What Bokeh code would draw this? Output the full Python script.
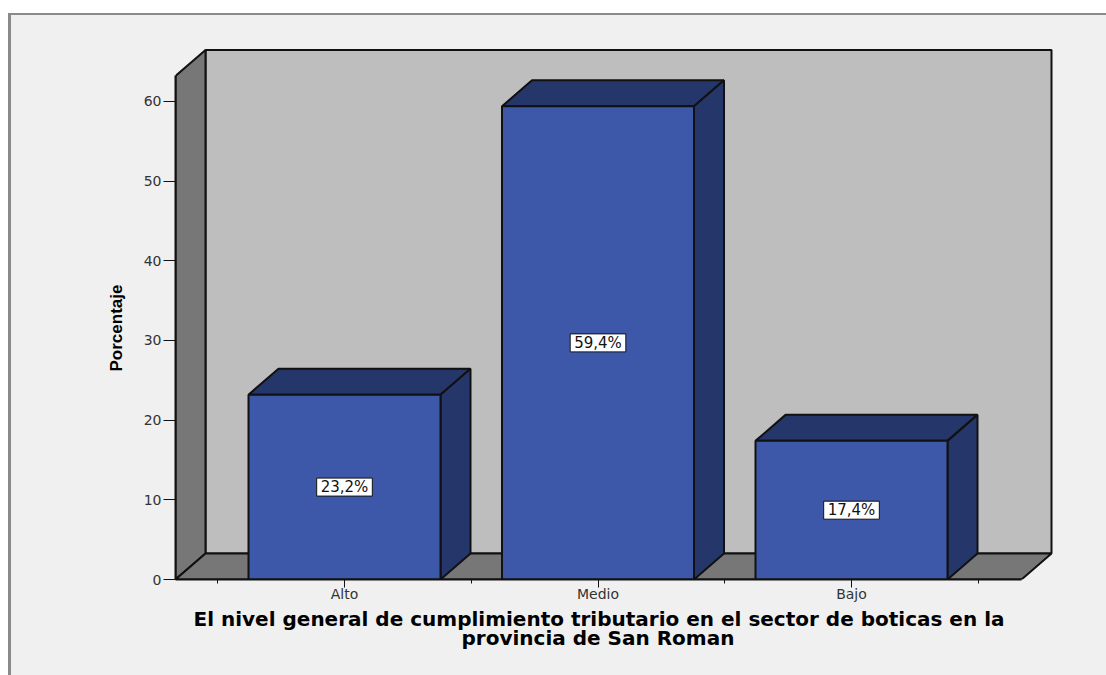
from bokeh.plotting import figure
from bokeh.embed import file_html
from bokeh.resources import INLINE
from bokeh.models import FixedTicker, Range1d, Label, Title

categories = ["Alto", "Medio", "Bajo"]
values = [23.2, 59.4, 17.4]
labels = ["23,2%", "59,4%", "17,4%"]
y_ticks = [0, 10, 20, 30, 40, 50, 60]
positions = [1, 2, 3]
title_lines = ["El nivel general de cumplimiento tributario en el sector de boticas en la",
               "provincia de San Roman"]
y_title = "Porcentaje"

PX_X = 253.5
PX_Y = 7.967
DX = 30 / PX_X
DY = 26 / PX_Y
BAR_W = 192 / PX_X
X0 = 1 - 169 / PX_X
X1 = 1 + 677 / PX_X
YTOP = 63.2

FRONT = "#3d58a9"
DARK = "#25366b"
WALL = "#777777"
BACK = "#bebebe"
EDGE = "#111111"
BG = "#f0f0f0"

p = figure(width=1098, height=662, output_backend="svg", toolbar_location=None,
           x_range=Range1d(X0, X0 + 880 / PX_X), y_range=Range1d(0, 535 / PX_Y),
           min_border_left=167, min_border_right=51, min_border_top=31, min_border_bottom=96,
           background_fill_color=None, border_fill_color=None, outline_line_color=None,
           margin=(13, 0, 0, 8))
p.styles = {"background-color": BG, "box-shadow": "inset 3px 2px 0 #8a8a8a"}
p.grid.visible = False

lw = 2
p.patch([X0 + DX, X1 + DX, X1 + DX, X0 + DX], [DY, DY, YTOP + DY, YTOP + DY],
        fill_color=BACK, line_color=EDGE, line_width=lw)
p.patch([X0, X0 + DX, X0 + DX, X0], [0, DY, YTOP + DY, YTOP],
        fill_color=WALL, line_color=EDGE, line_width=lw)
p.patch([X0, X1, X1 + DX, X0 + DX], [0, 0, DY, DY],
        fill_color=WALL, line_color=EDGE, line_width=lw)

for x, v in zip(positions, values):
    l, r = x - BAR_W / 2, x + BAR_W / 2
    p.patch([l, r, r + DX, l + DX], [v, v, v + DY, v + DY],
            fill_color=DARK, line_color=EDGE, line_width=lw)
    p.patch([r, r + DX, r + DX, r], [0, DY, v + DY, v],
            fill_color=DARK, line_color=EDGE, line_width=lw)
p.vbar(x=positions, top=values, bottom=0, width=BAR_W,
       fill_color=FRONT, line_color=EDGE, line_width=lw)

for x, v, t in zip(positions, values, labels):
    p.add_layout(Label(x=x, y=v / 2, text=t, text_align="center", text_baseline="middle",
                       text_font="DejaVu Sans", text_font_size="15px", text_color="#111111",
                       background_fill_color="white", border_line_color="#111111",
                       border_line_width=1, padding=(4, 0)))

xa = p.xaxis[0]
xa.ticker = FixedTicker(ticks=positions,
                        minor_ticks=[positions[0] - 0.5] + [x + 0.5 for x in positions])
xa.major_label_overrides = dict(zip(positions, categories))
xa.bounds = (X0, X1)
xa.axis_line_color = EDGE
xa.axis_line_width = lw
xa.major_tick_in = 0
xa.major_tick_out = 8
xa.minor_tick_in = 0
xa.minor_tick_out = 4
xa.major_tick_line_color = EDGE
xa.minor_tick_line_color = EDGE
xa.major_label_text_font = "DejaVu Sans"
xa.major_label_text_font_size = "14px"
xa.major_label_text_color = "#333333"
xa.major_label_standoff = -2

for line, off, gap in zip(title_lines, [18, 286], [1, -16]):
    p.add_layout(Title(text=line, align="left", offset=off, standoff=gap,
                       text_font="DejaVu Sans", text_font_style="bold",
                       text_font_size="20px", text_color="#000000"), "below")

ya = p.yaxis[0]
ya.ticker = FixedTicker(ticks=y_ticks)
ya.bounds = (0, YTOP)
ya.axis_line_color = EDGE
ya.axis_line_width = lw
ya.major_tick_in = 0
ya.major_tick_out = 12
ya.major_tick_line_color = EDGE
ya.major_label_text_font = "DejaVu Sans"
ya.major_label_text_font_size = "14px"
ya.major_label_text_color = "#333333"
ya.major_label_standoff = 2

p.add_layout(Title(text=y_title, align="left", offset=208, standoff=30,
                   text_font="Liberation Sans", text_font_style="bold",
                   text_font_size="17px", text_color="#000000"), "left")

open("out.html", "w").write(file_html(p, INLINE))
